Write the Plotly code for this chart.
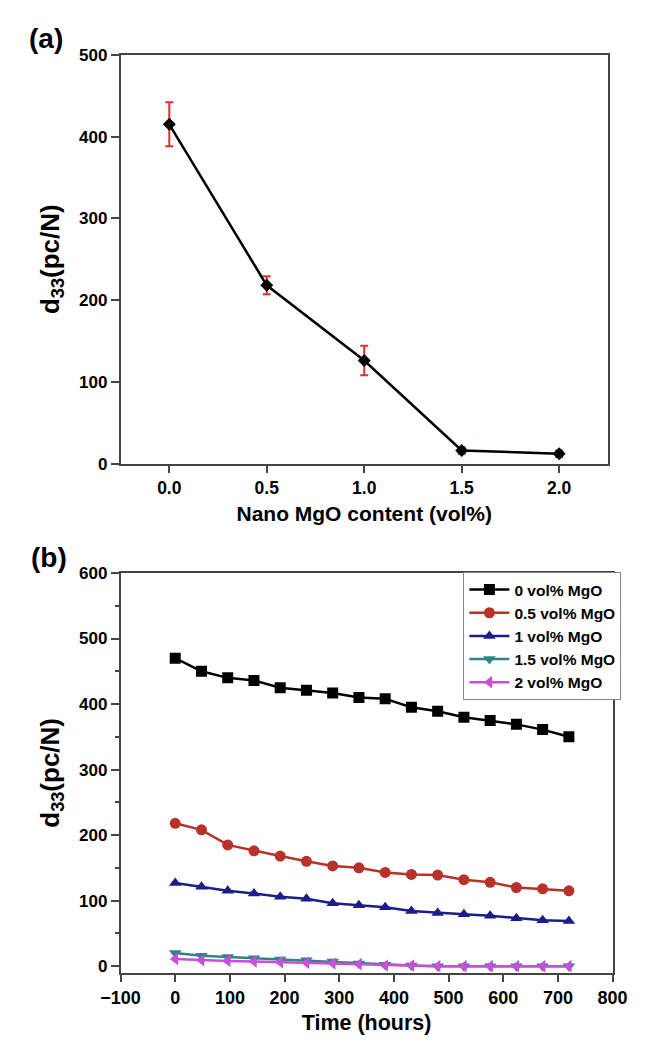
import plotly.graph_objects as go

# ---------------- data ----------------
mgo_content = [0.0, 0.5, 1.0, 1.5, 2.0]
d33_a = [415, 218, 126, 16, 12]
d33_a_err = [27, 11, 18, 4, 4]

hours = [0, 48, 96, 144, 192, 240, 288, 336, 384, 432, 480, 528, 576, 624, 672, 720]
d33_0 = [470, 450, 440, 436, 425, 421, 417, 410, 408, 395, 389, 380, 375, 369, 361, 350]
d33_05 = [218, 208, 185, 176, 168, 160, 153, 150, 143, 140, 139, 132, 128, 120, 118, 115]
d33_1 = [127, 121, 115, 111, 106, 103, 96, 93, 90, 84, 81, 79, 77, 73, 70, 69]
d33_15 = [20, 16, 14, 12, 10, 9, 7, 4, 2, 1, 0, 0, 0, 0, 0, 0]
d33_2 = [11, 9, 8, 7, 6, 5, 4, 3, 1, 1, 0, 0, 0, 0, 0, 0]

series_names = ["0 vol% MgO", "0.5 vol% MgO", "1 vol% MgO", "1.5 vol% MgO", "2 vol% MgO"]
series_values = [d33_0, d33_05, d33_1, d33_15, d33_2]
series_colors = ["#000000", "#b8322a", "#1c1c8a", "#2f8585", "#c84fd8"]
series_symbols = ["square", "circle", "triangle-up", "triangle-down", "triangle-left"]

# page body has an 8px default margin; size the figure to fit the window exactly
OFF = 8
W, H = 646 - 2 * OFF, 1043 - 2 * OFF
FONT = "Liberation Sans, Arial, Helvetica, sans-serif"


def fx(p):
    return (p - OFF) / W


def fy(p):
    return 1 - (p - OFF) / H


fig = go.Figure()

# ---------------- panel (a) ----------------
fig.add_trace(go.Scatter(
    x=mgo_content, y=d33_a, mode="lines+markers",
    line=dict(color="black", width=2.5),
    marker=dict(symbol="diamond", size=10, color="black"),
    error_y=dict(type="data", array=d33_a_err, visible=True,
                 color="#e03030", thickness=2, width=4),
    xaxis="x", yaxis="y", showlegend=False,
))

# ---------------- panel (b) ----------------
for name, vals, col, sym in zip(series_names, series_values, series_colors, series_symbols):
    fig.add_trace(go.Scatter(
        x=hours, y=vals, mode="lines+markers", name=name,
        line=dict(color=col, width=2.5),
        marker=dict(symbol=sym, size=11, color=col),
        xaxis="x2", yaxis="y2",
    ))


def f(size):
    return dict(family=FONT, size=size, color="black", weight="bold")


axcommon = dict(showline=True, linecolor="#444", linewidth=1.5, mirror=True,
                ticks="outside", ticklen=8, tickwidth=1.5, tickcolor="#444",
                showgrid=False, zeroline=False, ticklabeloverflow="allow")

fig.update_layout(
    width=W, height=H,
    margin=dict(l=0, r=0, t=0, b=0),
    paper_bgcolor="white", plot_bgcolor="white",
    font=dict(family=FONT, color="black", weight="bold"),
    xaxis=dict(domain=[fx(106), fx(622)], anchor="y", range=[-0.25, 2.25],
               tickvals=[0, 0.5, 1.0, 1.5, 2.0], tickformat=".1f", tickfont=f(17.5),
               title=dict(text="Nano MgO content (vol%)", font=f(21), standoff=9),
               **axcommon),
    yaxis=dict(domain=[fy(463), fy(46.5)], anchor="x", range=[0, 500],
               dtick=100, tickfont=f(17),
               title=dict(text="d<sub>33</sub>(pc/N)", font=f(26), standoff=12),
               **axcommon),
    xaxis2=dict(domain=[fx(106), fx(627)], anchor="y2", range=[-100, 800],
                dtick=100, tickfont=f(18),
                title=dict(text="Time (hours)", font=f(21.5), standoff=10),
                **axcommon),
    yaxis2=dict(domain=[fy(981.7), fy(574.5)], anchor="x2", range=[-10, 600],
                dtick=100, tickfont=f(17),
                minor=dict(dtick=50, ticks="outside", ticklen=4, tickwidth=1.5, tickcolor="#444"),
                title=dict(text="d<sub>33</sub>(pc/N)", font=f(26), standoff=12),
                **axcommon),
    legend=dict(x=fx(469), y=fy(573.5), xanchor="left", yanchor="top",
                bgcolor="white", bordercolor="#888", borderwidth=1,
                font=f(15.5), itemwidth=40, tracegroupgap=0),
    annotations=[
        dict(text="(a)", x=fx(27), y=fy(30), xref="paper", yref="paper",
             xanchor="center", yanchor="middle", showarrow=False, font=f(28)),
        dict(text="(b)", x=fx(30), y=fy(559), xref="paper", yref="paper",
             xanchor="center", yanchor="middle", showarrow=False, font=f(28)),
    ],
)

fig.write_html("out.html")
